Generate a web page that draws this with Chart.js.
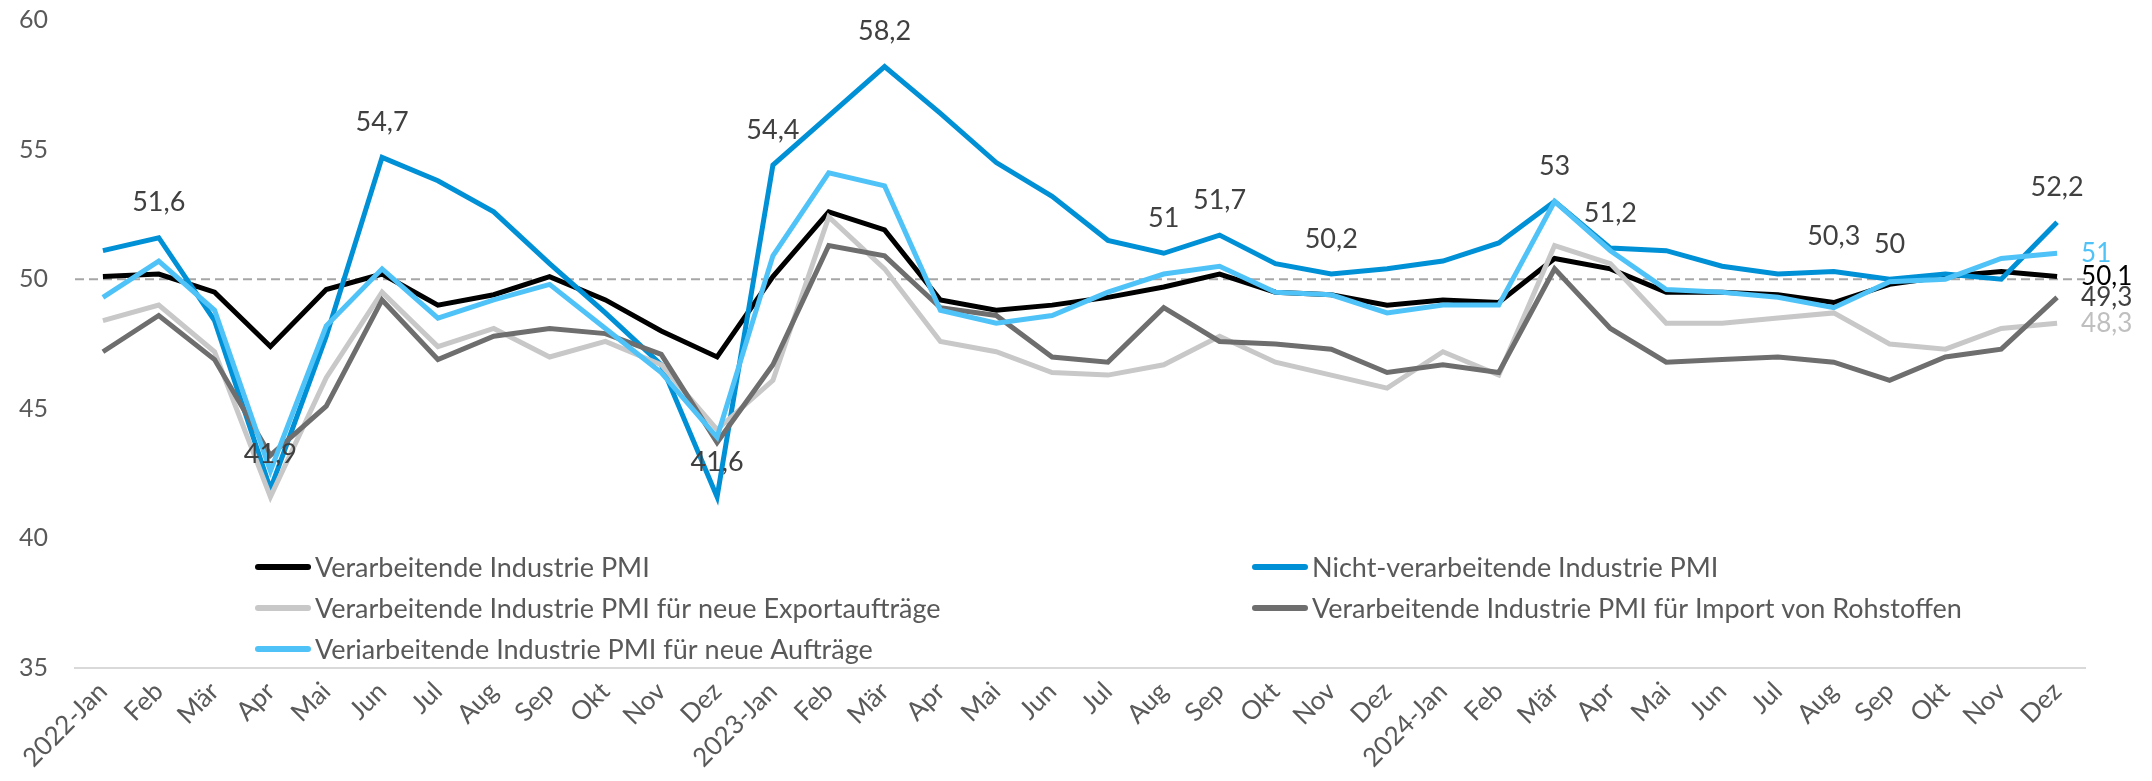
<!DOCTYPE html>
<html>
<head>
<meta charset="utf-8">
<script src="https://cdn.jsdelivr.net/npm/chart.js@4"></script>
<style>
  body { margin: 0; background: #fff; }
  #wrap { width: 2152px; height: 781px; }
</style>
</head>
<body>
<div id="wrap"><canvas id="pmi" width="2152" height="781"></canvas></div>
<script>
// Monate 2022-2024
const labels = [
  '2022-Jan', 'Feb', 'Mär', 'Apr', 'Mai', 'Jun', 'Jul', 'Aug', 'Sep', 'Okt', 'Nov', 'Dez',
  '2023-Jan', 'Feb', 'Mär', 'Apr', 'Mai', 'Jun', 'Jul', 'Aug', 'Sep', 'Okt', 'Nov', 'Dez',
  '2024-Jan', 'Feb', 'Mär', 'Apr', 'Mai', 'Jun', 'Jul', 'Aug', 'Sep', 'Okt', 'Nov', 'Dez'
];

const verarbeitend = [
  50.1, 50.2, 49.5, 47.4, 49.6, 50.2, 49.0, 49.4, 50.1, 49.2, 48.0, 47.0,
  50.1, 52.6, 51.9, 49.2, 48.8, 49.0, 49.3, 49.7, 50.2, 49.5, 49.4, 49.0,
  49.2, 49.1, 50.8, 50.4, 49.5, 49.5, 49.4, 49.1, 49.8, 50.1, 50.3, 50.1
];
const nichtVerarbeitend = [
  51.1, 51.6, 48.4, 41.9, 47.8, 54.7, 53.8, 52.6, 50.6, 48.7, 46.7, 41.6,
  54.4, 56.3, 58.2, 56.4, 54.5, 53.2, 51.5, 51.0, 51.7, 50.6, 50.2, 50.4,
  50.7, 51.4, 53.0, 51.2, 51.1, 50.5, 50.2, 50.3, 50.0, 50.2, 50.0, 52.2
];
const exportAuftraege = [
  48.4, 49.0, 47.2, 41.6, 46.2, 49.5, 47.4, 48.1, 47.0, 47.6, 46.7, 44.2,
  46.1, 52.4, 50.4, 47.6, 47.2, 46.4, 46.3, 46.7, 47.8, 46.8, 46.3, 45.8,
  47.2, 46.3, 51.3, 50.6, 48.3, 48.3, 48.5, 48.7, 47.5, 47.3, 48.1, 48.3
];
const importRohstoffe = [
  47.2, 48.6, 46.9, 43.2, 45.1, 49.2, 46.9, 47.8, 48.1, 47.9, 47.1, 43.7,
  46.7, 51.3, 50.9, 48.9, 48.6, 47.0, 46.8, 48.9, 47.6, 47.5, 47.3, 46.4,
  46.7, 46.4, 50.4, 48.1, 46.8, 46.9, 47.0, 46.8, 46.1, 47.0, 47.3, 49.3
];
const neueAuftraege = [
  49.3, 50.7, 48.8, 42.6, 48.2, 50.4, 48.5, 49.2, 49.8, 48.1, 46.4, 43.9,
  50.9, 54.1, 53.6, 48.8, 48.3, 48.6, 49.5, 50.2, 50.5, 49.5, 49.4, 48.7,
  49.0, 49.0, 53.0, 51.1, 49.6, 49.5, 49.3, 48.9, 49.9, 50.0, 50.8, 51.0
];

const seriesNames = [
  'Verarbeitende Industrie PMI',
  'Nicht-verarbeitende Industrie PMI',
  'Verarbeitende Industrie PMI für neue Exportaufträge',
  'Verarbeitende Industrie PMI für Import von Rohstoffen',
  'Veriarbeitende Industrie PMI für neue Aufträge'
];
const seriesColors = ['#000000', '#0090D6', '#C8C8C8', '#6E6E6E', '#4FC3F7'];

// Punkte der Nicht-verarbeitenden Reihe mit Wertbeschriftung
const labeledPoints = [1, 3, 5, 11, 12, 14, 19, 20, 22, 26, 27, 31, 32, 35];
// Endwerte rechts: Reihe -> Textfarbe
const endLabelColors = { 0: '#000000', 2: '#BFBFBF', 3: '#404040', 4: '#4FC3F7' };

const yMin = 35, yMax = 60, yStep = 5;
const threshold = 50;

const FONT = 'Lato, "Liberation Sans", sans-serif';
const fmt = v => String(v).replace('.', ',');

const thresholdLine = {
  id: 'thresholdLine',
  beforeDatasetsDraw(chart) {
    const { ctx, chartArea } = chart;
    const y = chart.scales.y.getPixelForValue(threshold);
    ctx.save();
    ctx.strokeStyle = '#A6A6A6';
    ctx.lineWidth = 2;
    ctx.setLineDash([9, 5]);
    ctx.beginPath();
    ctx.moveTo(chartArea.left, y);
    ctx.lineTo(chartArea.right, y);
    ctx.stroke();
    ctx.restore();
  }
};

const valueLabels = {
  id: 'valueLabels',
  afterDatasetsDraw(chart) {
    const ctx = chart.ctx;
    ctx.save();
    ctx.textBaseline = 'middle';
    // Beschriftung über den Punkten
    ctx.font = '27px ' + FONT;
    const blue = chart.getDatasetMeta(1);
    ctx.fillStyle = '#404040';
    ctx.textAlign = 'center';
    labeledPoints.forEach(i => {
      const p = blue.data[i];
      ctx.fillText(fmt(nichtVerarbeitend[i]), p.x, p.y - 35);
    });
    // Endwerte
    ctx.font = '26px ' + FONT;
    ctx.textAlign = 'left';
    Object.keys(endLabelColors).forEach(k => {
      const ds = chart.data.datasets[k];
      const meta = chart.getDatasetMeta(+k);
      const last = ds.data.length - 1;
      const p = meta.data[last];
      ctx.fillStyle = endLabelColors[k];
      ctx.fillText(fmt(ds.data[last]), p.x + 24, p.y);
    });
    ctx.restore();
  }
};

const gridLegend = {
  id: 'gridLegend',
  afterDraw(chart) {
    const ctx = chart.ctx;
    const colX = [255, 1252];
    const rowY = [567, 608, 649];
    ctx.save();
    ctx.font = '27px ' + FONT;
    ctx.textBaseline = 'middle';
    ctx.textAlign = 'left';
    chart.data.datasets.forEach((ds, i) => {
      const x = colX[i % 2];
      const y = rowY[Math.floor(i / 2)];
      ctx.strokeStyle = ds.borderColor;
      ctx.lineWidth = 6;
      ctx.lineCap = 'round';
      ctx.beginPath();
      ctx.moveTo(x + 3, y);
      ctx.lineTo(x + 53, y);
      ctx.stroke();
      ctx.fillStyle = '#595959';
      ctx.fillText(ds.label, x + 60, y + 1);
    });
    ctx.restore();
  }
};

const seriesData = [verarbeitend, nichtVerarbeitend, exportAuftraege, importRohstoffe, neueAuftraege];

new Chart(document.getElementById('pmi'), {
  type: 'line',
  data: {
    labels: labels,
    datasets: seriesData.map((d, i) => ({
      label: seriesNames[i],
      data: d,
      borderColor: seriesColors[i],
      backgroundColor: seriesColors[i],
      borderWidth: 5,
      pointRadius: 0,
      tension: 0,
      fill: false,
      order: seriesData.length - i
    }))
  },
  options: {
    responsive: false,
    animation: false,
    layout: { padding: { left: 19, right: 67, top: 20, bottom: 0 } },
    plugins: {
      legend: { display: false },
      tooltip: { enabled: false }
    },
    scales: {
      x: {
        offset: true,
        grid: { display: false, drawTicks: false },
        border: { display: true, color: '#D9D9D9', width: 2 },
        ticks: {
          autoSkip: false,
          minRotation: 45,
          maxRotation: 45,
          padding: 8,
          color: '#595959',
          font: { family: FONT, size: 26 }
        },
        afterFit(scale) { scale.height = 113; }
      },
      y: {
        min: yMin,
        max: yMax,
        grid: { display: false, drawTicks: false },
        border: { display: false },
        ticks: {
          stepSize: yStep,
          padding: 0,
          crossAlign: 'far',
          color: '#595959',
          font: { family: FONT, size: 25 }
        },
        afterFit(scale) { scale.width = 56; }
      }
    }
  },
  plugins: [thresholdLine, valueLabels, gridLegend]
});
</script>
</body>
</html>
